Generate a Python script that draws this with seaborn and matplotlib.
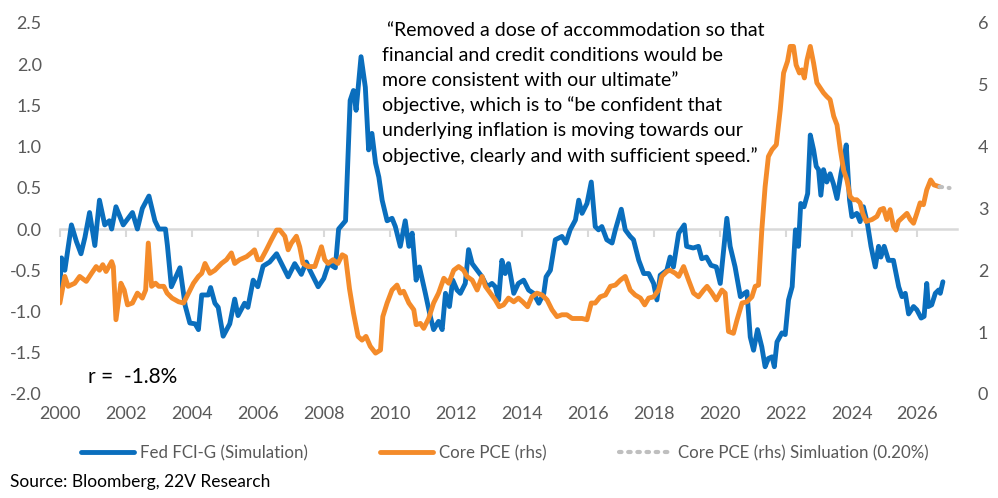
import numpy as np
import matplotlib
matplotlib.use('Agg')
import matplotlib.pyplot as plt
import seaborn as sns

sns.set_style('white')
plt.rcParams['font.family'] = ['Lato', 'DejaVu Sans']

# Fed FCI-G (Simulation), left axis
fci_years = [2000.0, 2000.05, 2000.15, 2000.35, 2000.5, 2000.64, 2000.76, 2000.9, 2001.06, 2001.2,
             2001.36, 2001.5, 2001.57, 2001.7, 2001.92, 2002.2, 2002.35, 2002.5, 2002.7, 2002.88,
             2003.0, 2003.2, 2003.26, 2003.38, 2003.64, 2003.8, 2003.94, 2004.1, 2004.2, 2004.3,
             2004.5, 2004.57, 2004.7, 2004.8, 2004.95, 2005.15, 2005.3, 2005.4, 2005.6, 2005.7,
             2005.86, 2006.0, 2006.16, 2006.36, 2006.57, 2006.72, 2006.92, 2007.12, 2007.32, 2007.47,
             2007.58, 2007.83, 2008.0, 2008.15, 2008.35, 2008.45, 2008.66, 2008.8, 2008.9, 2008.98,
             2009.13, 2009.26, 2009.36, 2009.46, 2009.57, 2009.67, 2009.77, 2009.92, 2010.07, 2010.17,
             2010.32, 2010.47, 2010.58, 2010.68, 2010.8, 2010.9, 2011.08, 2011.23, 2011.33, 2011.48,
             2011.59, 2011.69, 2011.81, 2011.91, 2012.04, 2012.14, 2012.29, 2012.39, 2012.5, 2012.65,
             2012.8, 2012.95, 2013.1, 2013.2, 2013.3, 2013.4, 2013.5, 2013.6, 2013.76, 2013.9,
             2014.06, 2014.21, 2014.36, 2014.52, 2014.67, 2014.74, 2014.87, 2015.02, 2015.22, 2015.34,
             2015.47, 2015.63, 2015.73, 2015.83, 2015.98, 2016.11, 2016.23, 2016.33, 2016.43, 2016.58,
             2016.74, 2016.84, 2017.02, 2017.14, 2017.29, 2017.39, 2017.55, 2017.7, 2017.85, 2018.0,
             2018.1, 2018.2, 2018.4, 2018.5, 2018.6, 2018.76, 2018.93, 2019.0, 2019.2, 2019.36,
             2019.46, 2019.6, 2019.74, 2019.9, 2020.02, 2020.22, 2020.32, 2020.47, 2020.63, 2020.75,
             2020.83, 2020.93, 2021.03, 2021.15, 2021.28, 2021.38, 2021.48, 2021.59, 2021.66, 2021.74,
             2021.89, 2021.99, 2022.09, 2022.2, 2022.3, 2022.39, 2022.46, 2022.56, 2022.67, 2022.75,
             2022.85, 2022.93, 2023.0, 2023.07, 2023.15, 2023.25, 2023.35, 2023.45, 2023.56, 2023.68,
             2023.76, 2023.84, 2023.94, 2024.01, 2024.16, 2024.26, 2024.36, 2024.48, 2024.59, 2024.72,
             2024.82, 2024.89, 2024.99, 2025.12, 2025.27, 2025.43, 2025.53, 2025.63, 2025.73, 2025.88,
             2025.98, 2026.11, 2026.2, 2026.28, 2026.33, 2026.43, 2026.54, 2026.64, 2026.69, 2026.77]
fci_values = [-0.7, -0.35, -0.5, 0.05, -0.15, -0.3, -0.1, 0.2, -0.2, 0.35,
              0.05, 0.1, 0.0, 0.27, 0.05, 0.2, 0.0, 0.25, 0.4, 0.1,
              0.0, 0.0, -0.2, -0.7, -0.47, -0.93, -1.14, -1.15, -1.22, -0.8,
              -0.8, -0.71, -0.9, -0.95, -1.3, -1.15, -0.85, -1.05, -0.9, -0.95,
              -0.62, -0.7, -0.45, -0.4, -0.3, -0.42, -0.58, -0.42, -0.55, -0.4,
              -0.5, -0.7, -0.6, -0.42, -0.47, 0.0, 0.1, 1.56, 1.68, 1.44,
              2.09, 1.72, 0.96, 1.16, 0.8, 0.63, 0.35, 0.1, 0.13, 0.03,
              -0.21, 0.1, -0.21, -0.05, -0.62, -0.46, -0.78, -1.06, -1.22, -1.12,
              -1.22, -0.78, -0.94, -0.62, -0.74, -0.78, -0.66, -0.25, -0.42, -0.5,
              -0.58, -0.7, -0.66, -0.7, -0.86, -0.38, -0.54, -0.42, -0.78, -0.66,
              -0.62, -0.74, -0.78, -0.9, -0.78, -0.58, -0.5, -0.13, -0.09, -0.17,
              -0.01, 0.11, 0.35, 0.19, 0.31, 0.57, 0.03, -0.01, 0.03, -0.13,
              -0.17, -0.01, 0.24, -0.01, -0.09, -0.13, -0.38, -0.54, -0.54, -0.66,
              -0.86, -0.56, -0.5, -0.34, -0.46, -0.05, 0.05, -0.21, -0.23, -0.21,
              -0.36, -0.34, -0.44, -0.46, -0.66, 0.13, -0.21, -0.46, -0.82, -0.78,
              -0.76, -1.31, -1.47, -1.22, -1.43, -1.67, -1.57, -1.55, -1.67, -1.37,
              -1.26, -1.28, -0.86, -0.7, -0.01, -0.21, 0.31, 0.27, 0.43, 1.14,
              0.96, 0.76, 0.72, 0.41, 0.72, 0.57, 0.67, 0.55, 0.37, 0.67,
              0.84, 1.02, 0.35, 0.15, 0.19, 0.09, 0.27, 0.07, -0.21, -0.46,
              -0.21, -0.34, -0.21, -0.38, -0.38, -0.7, -0.82, -0.78, -1.03, -0.94,
              -0.98, -1.08, -1.06, -0.66, -0.94, -0.92, -0.78, -0.74, -0.78, -0.64]

# Core PCE (rhs)
pce_years = [2000.0, 2000.15, 2000.25, 2000.45, 2000.6, 2000.8, 2000.96, 2001.1, 2001.2, 2001.3,
             2001.4, 2001.57, 2001.62, 2001.7, 2001.85, 2001.95, 2002.05, 2002.2, 2002.35, 2002.5,
             2002.6, 2002.68, 2002.78, 2002.9, 2003.0, 2003.15, 2003.25, 2003.4, 2003.6, 2003.75,
             2003.9, 2004.05, 2004.2, 2004.3, 2004.4, 2004.55, 2004.7, 2004.9, 2005.05, 2005.2,
             2005.3, 2005.45, 2005.66, 2005.8, 2005.9, 2006.0, 2006.1, 2006.26, 2006.41, 2006.57,
             2006.67, 2006.82, 2006.92, 2007.02, 2007.17, 2007.27, 2007.37, 2007.52, 2007.73, 2007.93,
             2008.03, 2008.13, 2008.28, 2008.43, 2008.56, 2008.66, 2008.78, 2008.9, 2009.04, 2009.16,
             2009.28, 2009.41, 2009.57, 2009.72, 2009.79, 2009.92, 2010.07, 2010.22, 2010.32, 2010.42,
             2010.58, 2010.73, 2010.8, 2010.93, 2011.03, 2011.18, 2011.33, 2011.48, 2011.64, 2011.79,
             2011.94, 2012.09, 2012.24, 2012.34, 2012.5, 2012.65, 2012.8, 2012.9, 2013.05, 2013.2,
             2013.32, 2013.45, 2013.6, 2013.76, 2013.9, 2014.03, 2014.18, 2014.31, 2014.46, 2014.62,
             2014.77, 2014.92, 2015.07, 2015.22, 2015.37, 2015.53, 2015.68, 2015.83, 2015.98, 2016.11,
             2016.23, 2016.38, 2016.54, 2016.69, 2016.84, 2016.99, 2017.14, 2017.29, 2017.44, 2017.6,
             2017.73, 2017.85, 2018.0, 2018.15, 2018.25, 2018.4, 2018.5, 2018.66, 2018.76, 2018.91,
             2019.06, 2019.21, 2019.36, 2019.52, 2019.62, 2019.77, 2019.9, 2020.07, 2020.17, 2020.27,
             2020.42, 2020.53, 2020.68, 2020.83, 2020.98, 2021.08, 2021.18, 2021.28, 2021.38, 2021.48,
             2021.59, 2021.72, 2021.84, 2021.94, 2022.06, 2022.14, 2022.24, 2022.32, 2022.42, 2022.5,
             2022.57, 2022.65, 2022.75, 2022.85, 2022.95, 2023.05, 2023.15, 2023.25, 2023.35, 2023.46,
             2023.56, 2023.66, 2023.76, 2023.86, 2023.96, 2024.06, 2024.16, 2024.26, 2024.34, 2024.44,
             2024.62, 2024.77, 2024.87, 2024.97, 2025.07, 2025.17, 2025.27, 2025.35, 2025.42, 2025.58,
             2025.68, 2025.78, 2025.88, 2025.98, 2026.08, 2026.18, 2026.28, 2026.4, 2026.5, 2026.67]
pce_values = [1.47, 1.9, 1.74, 1.79, 1.9, 1.82, 1.95, 2.06, 2.0, 2.09,
              1.98, 2.14, 2.06, 1.2, 1.79, 1.68, 1.44, 1.47, 1.63, 1.55,
              1.68, 2.44, 1.74, 1.79, 1.74, 1.74, 1.63, 1.55, 1.49, 1.47,
              1.63, 1.79, 1.9, 1.95, 2.11, 1.95, 2.0, 2.11, 2.17, 2.28,
              2.11, 2.17, 2.22, 2.28, 2.33, 2.17, 2.17, 2.33, 2.49, 2.65,
              2.65, 2.55, 2.33, 2.44, 2.55, 2.38, 2.11, 2.06, 2.06, 2.38,
              2.17, 2.11, 2.17, 2.11, 2.25, 2.22, 1.7, 1.31, 0.93, 0.87,
              0.93, 0.77, 0.66, 0.71, 1.25, 1.47, 1.68, 1.76, 1.63, 1.66,
              1.47, 1.36, 1.12, 1.14, 1.06, 1.22, 1.47, 1.63, 1.87, 1.79,
              2.0, 2.06, 2.0, 1.9, 1.84, 1.68, 1.9, 1.74, 1.63, 1.52,
              1.41, 1.44, 1.55, 1.49, 1.55, 1.49, 1.41, 1.57, 1.63, 1.6,
              1.52, 1.36, 1.25, 1.28, 1.28, 1.22, 1.22, 1.22, 1.2, 1.47,
              1.47, 1.57, 1.6, 1.74, 1.76, 1.84, 1.9, 1.68, 1.6, 1.55,
              1.44, 1.55, 1.57, 1.68, 1.9, 1.98, 2.0, 1.95, 1.9, 2.06,
              1.84, 1.63, 1.57, 1.68, 1.74, 1.63, 1.52, 1.68, 1.63, 1.01,
              0.98, 1.2, 1.47, 1.49, 1.57, 1.74, 1.76, 2.65, 3.35, 3.84,
              3.95, 4.03, 4.6, 5.19, 5.38, 5.62, 5.62, 5.32, 5.19, 5.24,
              5.11, 5.4, 5.62, 5.35, 5.03, 4.95, 4.87, 4.81, 4.76, 4.49,
              4.35, 3.95, 3.62, 3.46, 3.19, 3.14, 3.14, 3.09, 2.92, 2.79,
              2.82, 2.87, 2.98, 3.0, 2.82, 2.98, 2.71, 2.65, 2.79, 2.87,
              2.92, 2.82, 2.76, 2.92, 3.09, 3.06, 3.3, 3.46, 3.38, 3.35]

# Core PCE (rhs) Simluation (0.20%)
sim_years = [2026.67, 2026.97]
sim_values = [3.35, 3.33]

left_ticks = [-2.0, -1.5, -1.0, -0.5, 0.0, 0.5, 1.0, 1.5, 2.0, 2.5]
right_ticks = [0, 1, 2, 3, 4, 5, 6]
year_ticks = list(range(2000, 2027, 2))

blue = '#0A6EBD'
orange = '#F48B2A'
grey_txt = '#595959'

fig = plt.figure(figsize=(9.98, 4.98), dpi=100)
ax = fig.add_axes([0.060, 0.209, 0.899, 0.745])
ax2 = ax.twinx()

sns.lineplot(x=fci_years, y=fci_values, ax=ax, color=blue, linewidth=3.5, legend=False)
sns.lineplot(x=pce_years, y=pce_values, ax=ax2, color=orange, linewidth=3.5, legend=False)
sns.lineplot(x=sim_years, y=sim_values, ax=ax2, color='#BFBFBF', linewidth=3.0,
             linestyle=(0, (0.6, 1.6)), dash_capstyle='round', legend=False)

ax.set_xlim(2000, 2027.2)
ax.set_ylim(-2.0, 2.5)
ax2.set_ylim(0, 6)
ax.set_yticks(left_ticks)
ax.set_yticklabels([f'{t:.1f}' for t in left_ticks])
ax2.set_yticks(right_ticks)
ax.set_xticks(year_ticks)
ax.set_xticklabels([str(y) for y in year_ticks])
ax.set_xlabel('')
ax.set_ylabel('')
ax2.set_ylabel('')

for a in (ax, ax2):
    for s in a.spines.values():
        s.set_visible(False)
ax.tick_params(axis='x', length=0, pad=9, labelsize=13, labelcolor=grey_txt)
ax.tick_params(axis='y', length=0, pad=13, labelsize=13, labelcolor=grey_txt)
ax2.tick_params(axis='y', length=0, pad=15, labelsize=13, labelcolor=grey_txt)

# zero line of the left axis with the year tick marks on it
zero_axis = ax.secondary_xaxis((0 - (-2.0)) / 4.5)
zero_axis.set_xticks(year_ticks)
zero_axis.set_xticklabels([])
zero_axis.tick_params(length=6, width=1.5, color='#D9D9D9', direction='out')
zero_axis.spines['bottom'].set_color('#D9D9D9')
zero_axis.spines['bottom'].set_linewidth(1.8)

quote = (' \u201cRemoved a dose of accommodation so that\n'
         'financial and credit conditions would be\n'
         'more consistent with our ultimate\u201d\n'
         'objective, which is to \u201cbe confident that\n'
         'underlying inflation is moving towards our\n'
         'objective, clearly and with sufficient speed.\u201d')
fig.text(0.383, 0.955, quote, ha='left', va='top', fontsize=14,
         linespacing=1.54, color='black')

fig.text(0.088, 0.243, 'r =  -1.8%', ha='left', va='center', fontsize=15, color='black')

handles = [ax.get_lines()[0], ax2.get_lines()[0], ax2.get_lines()[1]]
labels = ['Fed FCI-G (Simulation)', 'Core PCE (rhs)', 'Core PCE (rhs) Simluation (0.20%)']
fig.legend(handles, labels, loc='center left', bbox_to_anchor=(0.066, 0.09), ncol=3,
           frameon=False, fontsize=12.2, handlelength=3.1, handletextpad=0.35,
           columnspacing=4.3, labelcolor=grey_txt)

fig.text(0.010, 0.032, 'Source: Bloomberg, 22V Research', ha='left', va='center',
         fontsize=12.5, color='black')

fig.savefig('out.png', dpi=100)
